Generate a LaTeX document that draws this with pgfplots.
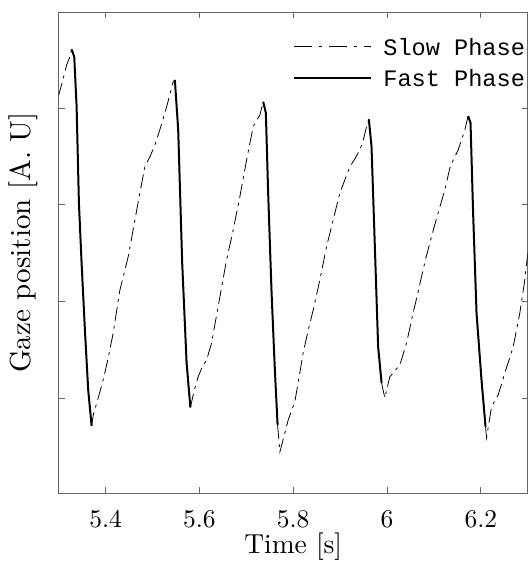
\documentclass[border=0pt]{standalone}
\usepackage{fontspec}
\setmainfont{lmroman10-regular.otf}
\usepackage{pgfplots}
\pgfplotsset{compat=1.18}
\newfontfamily\legfont{Liberation Mono}
\definecolor{axcol}{gray}{0.4}
\begin{document}
\begin{tikzpicture}
\begin{axis}[
  scale only axis, width=469pt, height=481pt,
  xmin=5.3, xmax=6.3, ymin=0.017, ymax=4.993,
  xtick={5.4,5.6,5.8,6,6.2}, xticklabels={5.4,5.6,5.8,6,6.2},
  ytick={1,2,3,4}, yticklabels={},
  /pgf/number format/assume math mode=true,
  tick align=inside, major tick length=6pt,
  axis line style={axcol, line width=0.8pt},
  every tick/.style={axcol, line width=0.8pt},
  tick label style={font=\fontsize{25.5}{30}\selectfont},
  xticklabel style={anchor=base, yshift=-34pt, inner sep=1pt},
  xlabel={Time [s]}, ylabel={Gaze position [A. U]},
  xlabel style={font=\fontsize{27.5}{33}\selectfont, at={([yshift=-60pt]axis description cs:0.5,0)}, anchor=base, inner sep=0pt},
  ylabel style={font=\fontsize{29}{34}\selectfont, at={([xshift=-28pt,yshift=10pt]axis description cs:0,0.5)}, anchor=base, inner sep=0pt},
  clip=true,
  legend image code/.code={\draw[#1] (0pt,0pt) -- (77pt,0pt);},
  legend cell align=left,
  legend style={at={(1,1)}, anchor=north east, draw=none, fill=none, inner sep=0pt,
    xshift=-2.5pt, yshift=-26pt, font=\legfont\fontsize{23.6}{28}\selectfont,
    row sep=14pt, nodes={inner sep=0pt, text depth=0pt},
    /tikz/every odd column/.style={column sep=11pt}},
  slow/.style={black, line width=0.8pt, dash pattern=on 14pt off 5pt on 3pt off 5pt},
  fast/.style={black, line width=2pt, solid},
]
\addlegendimage{slow, dash pattern=on 18pt off 7pt on 3pt off 7pt}
\addlegendentry{Slow Phase}
\addlegendimage{fast}
\addlegendentry{Fast Phase}

% slow phases
\addplot[slow, forget plot] coordinates {(5.2990,4.117) (5.3090,4.290) (5.3169,4.445) (5.3230,4.520) (5.3275,4.607)};
\addplot[slow, forget plot] coordinates {(5.3702,0.710) (5.3736,0.824) (5.3842,1.000) (5.3950,1.190) (5.4055,1.414) (5.4162,1.672) (5.4305,2.117) (5.4400,2.300) (5.4482,2.462) (5.4625,2.841) (5.4730,3.120) (5.4838,3.393) (5.4950,3.500) (5.5051,3.617) (5.5160,3.780) (5.5264,3.948) (5.5350,4.100) (5.5441,4.272) (5.5477,4.290)};
\addplot[slow, forget plot] coordinates {(5.5808,0.902) (5.5890,1.080) (5.5974,1.220) (5.6060,1.320) (5.6153,1.393) (5.6260,1.569) (5.6330,1.760) (5.6400,1.944) (5.6490,2.190) (5.6579,2.428) (5.6720,2.738) (5.6863,3.082) (5.7006,3.462) (5.7146,3.806) (5.7220,3.870) (5.7289,3.927) (5.7360,4.065)};
\addplot[slow, forget plot] coordinates {(5.7667,0.721) (5.7716,0.441) (5.7822,0.638) (5.7893,0.772) (5.8035,0.962) (5.8120,1.200) (5.8212,1.466) (5.8320,1.700) (5.8426,1.910) (5.8568,2.221) (5.8711,2.565) (5.8852,2.841) (5.8995,3.121) (5.9101,3.255) (5.9208,3.393) (5.9310,3.470) (5.9421,3.565) (5.9500,3.680) (5.9564,3.806) (5.9613,3.883)};
\addplot[slow, forget plot] coordinates {(5.9884,1.155) (5.9954,1.000) (6.0061,1.220) (6.0131,1.259) (6.0274,1.341) (6.0417,1.569) (6.0557,1.879) (6.0650,2.070) (6.0736,2.255) (6.0820,2.430) (6.0913,2.603) (6.1000,2.760) (6.1090,2.914) (6.1233,3.152) (6.1340,3.379) (6.1420,3.470) (6.1517,3.565) (6.1659,3.772) (6.1730,3.917)};
\addplot[slow, forget plot] coordinates {(6.2101,0.703) (6.2122,0.586) (6.2229,0.910) (6.2369,1.031) (6.2440,1.140) (6.2512,1.259) (6.2600,1.390) (6.2689,1.528) (6.2760,1.700) (6.2832,1.879) (6.2938,2.221) (6.3002,2.500)};

% fast phases
\addplot[fast, forget plot] coordinates {(5.3275,4.607) (5.3331,4.531) (5.3382,4.013) (5.3431,3.017) (5.3488,2.397) (5.3559,1.703) (5.3629,1.083) (5.3702,0.710)};
\addplot[fast, forget plot] coordinates {(5.5477,4.290) (5.5548,3.772) (5.5633,2.397) (5.5727,1.362) (5.5808,0.902)};
\addplot[fast, forget plot] coordinates {(5.7360,4.065) (5.7417,3.948) (5.7466,3.121) (5.7539,2.086) (5.7609,1.290) (5.7667,0.721)};
\addplot[fast, forget plot] coordinates {(5.9613,3.883) (5.9670,3.600) (5.9741,2.565) (5.9811,1.531) (5.9884,1.155)};
\addplot[fast, forget plot] coordinates {(6.1730,3.917) (6.1781,3.845) (6.1836,2.914) (6.1909,1.879) (6.2015,1.186) (6.2101,0.703)};
\end{axis}
\pgfresetboundingbox
\path ([xshift=-58.7pt,yshift=-74pt]current axis.south west) rectangle ([xshift=0.5pt,yshift=12pt]current axis.north east);
\end{tikzpicture}
\end{document}
